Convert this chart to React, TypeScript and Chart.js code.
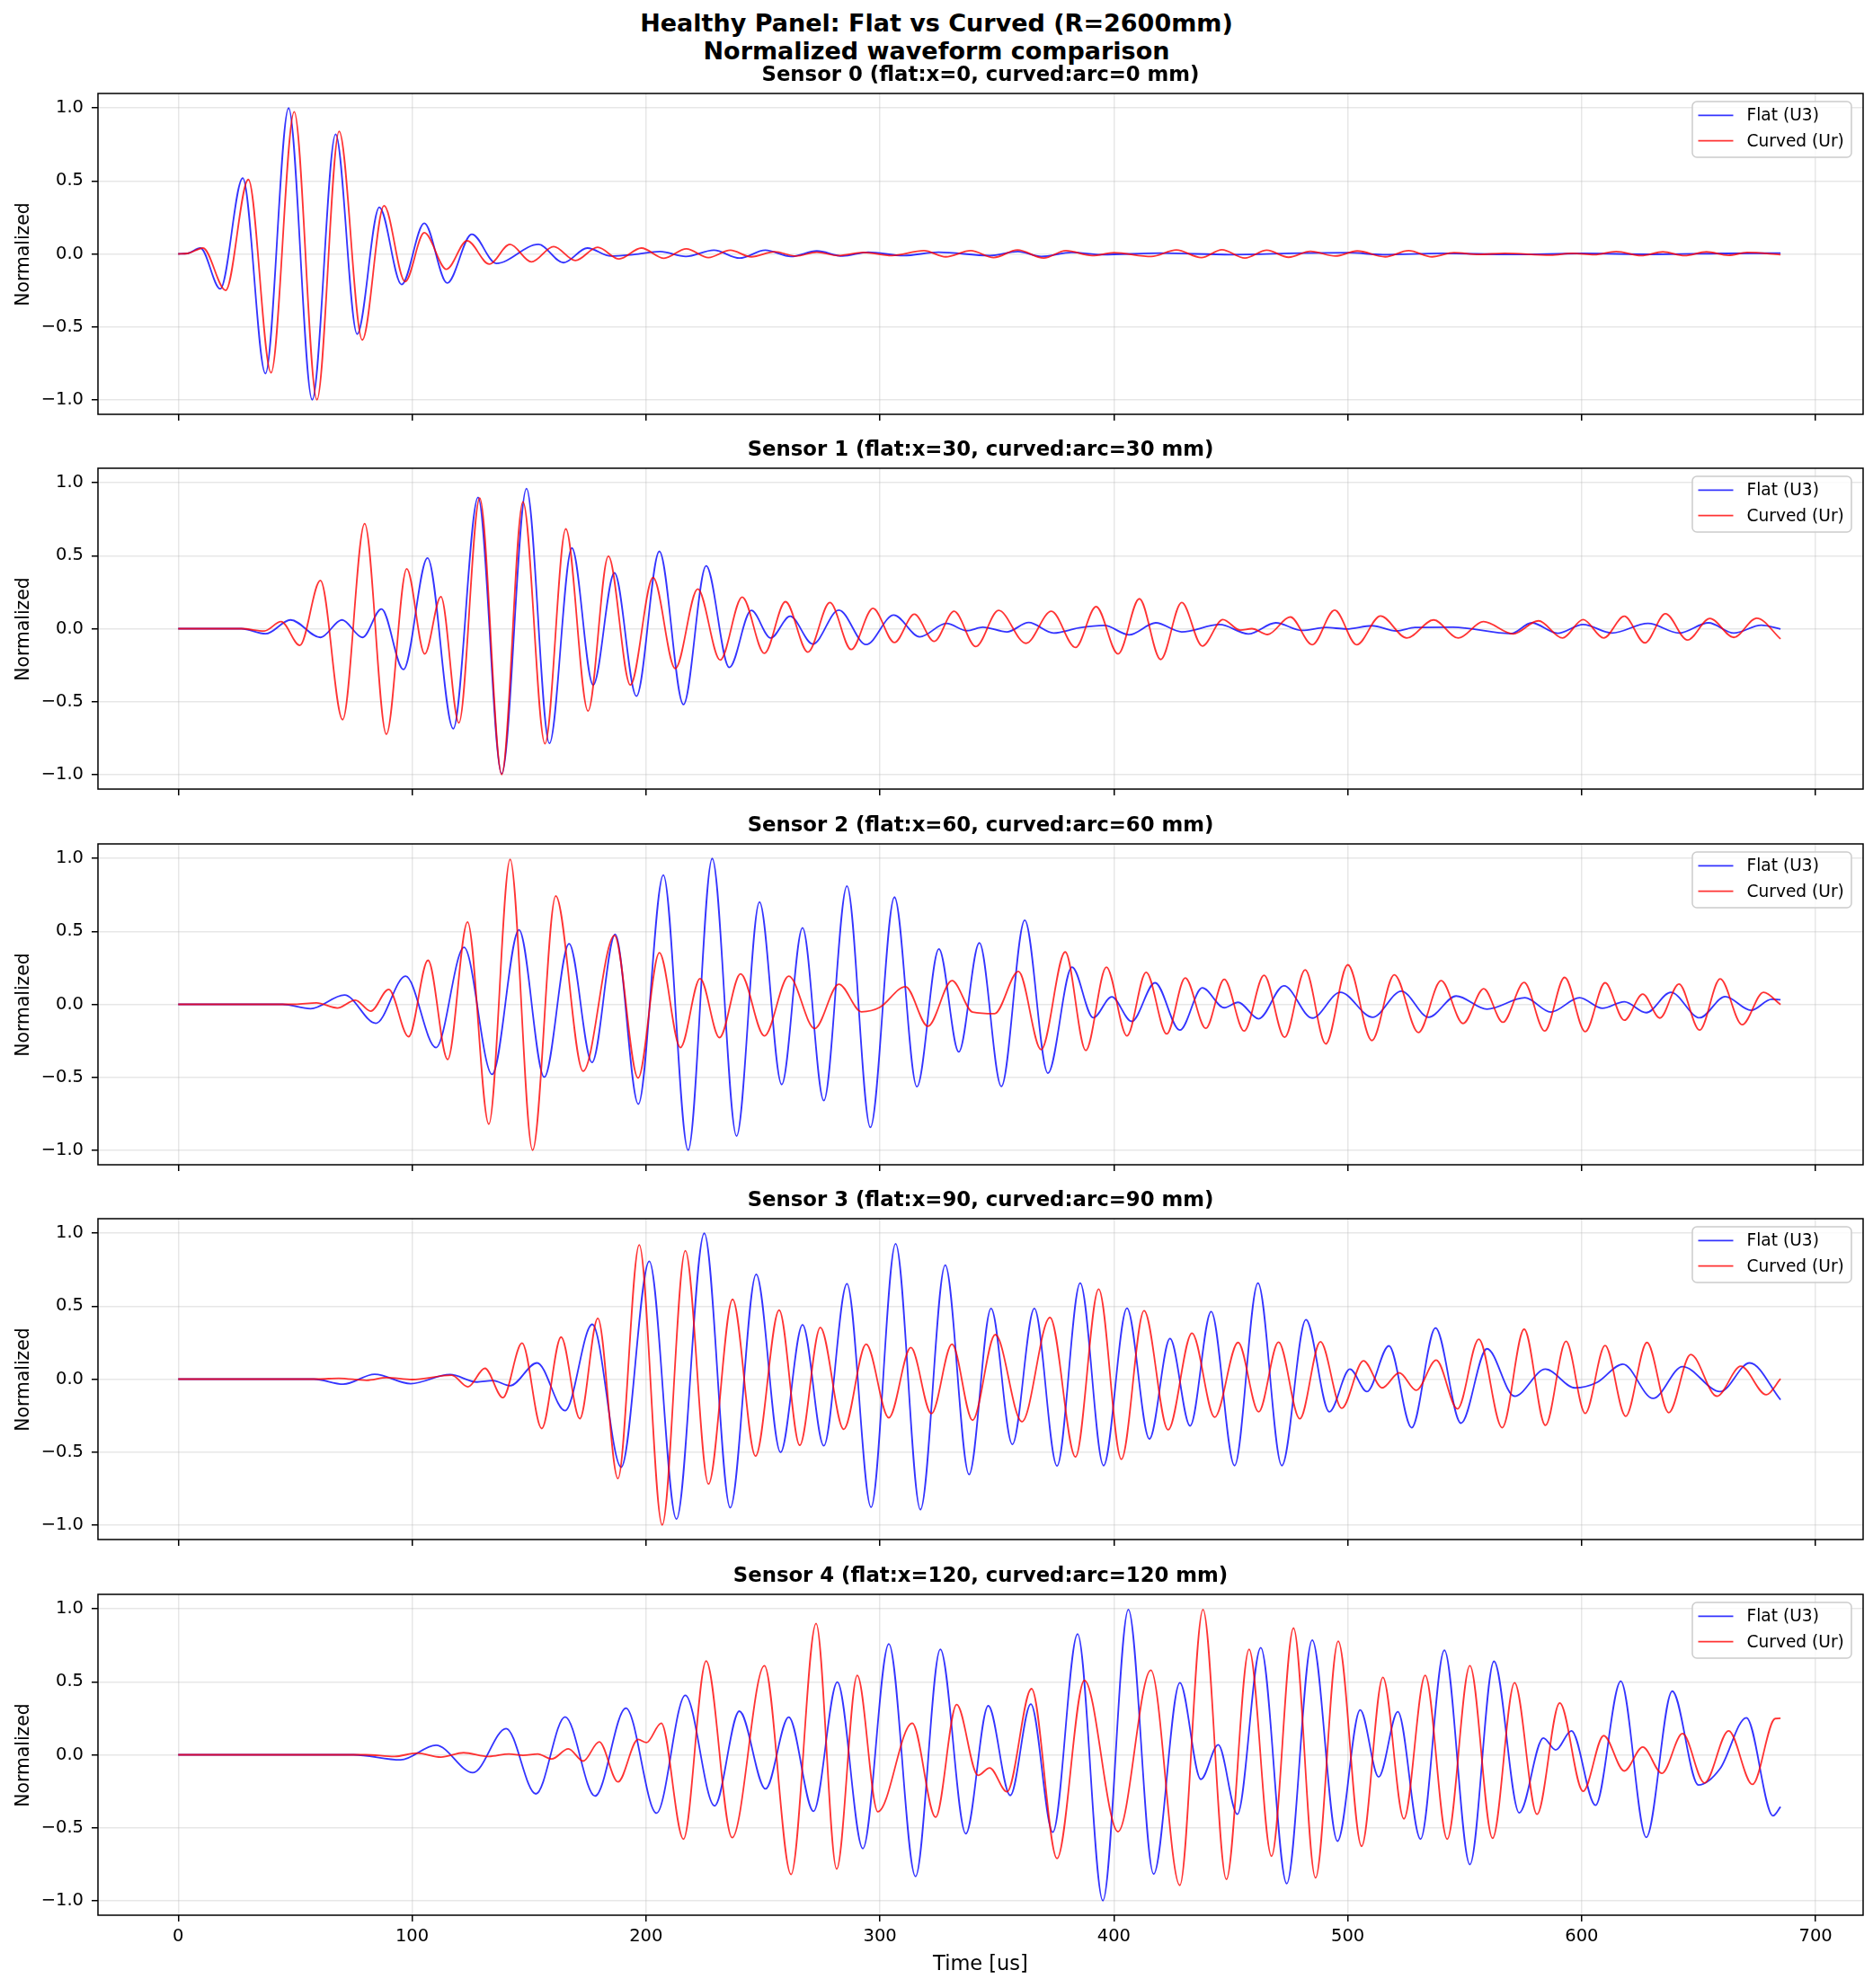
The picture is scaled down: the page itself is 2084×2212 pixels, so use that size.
import React, { useEffect, useRef } from "react";
import { Chart, registerables } from "chart.js";

Chart.register(...registerables);

// ---------------- text ----------------
const FIG_TITLE = ["Healthy Panel: Flat vs Curved (R=2600mm)", "Normalized waveform comparison"];
const SENSOR_TITLES = [
  "Sensor 0 (flat:x=0, curved:arc=0 mm)",
  "Sensor 1 (flat:x=30, curved:arc=30 mm)",
  "Sensor 2 (flat:x=60, curved:arc=60 mm)",
  "Sensor 3 (flat:x=90, curved:arc=90 mm)",
  "Sensor 4 (flat:x=120, curved:arc=120 mm)",
];
const SERIES_LABELS = ["Flat (U3)", "Curved (Ur)"];
const X_LABEL = "Time [us]";
const Y_LABEL = "Normalized";

// ---------------- axes ----------------
const X_TICKS = [0, 100, 200, 300, 400, 500, 600, 700];
const Y_TICKS = [-1, -0.5, 0, 0.5, 1];
const Y_TICK_LABELS = ["\u22121.0", "\u22120.5", "0.0", "0.5", "1.0"];
const X_MIN = -34.3;
const X_MAX = 720.3;
const Y_MIN = -1.1;
const Y_MAX = 1.1;

// ---------------- data: [time us, normalized] at waveform extrema ----------------
const S0_FLAT: [number, number][] = [
  [0, 0], [4, 0.003], [9.5, 0.04], [18, -0.24], [27.6, 0.52], [37.3, -0.82], [47.2, 1.0], [57.3, -1.0],
  [67.3, 0.82], [76.5, -0.55], [86, 0.32], [95.5, -0.21], [105.2, 0.21], [115, -0.2], [125.5, 0.135],
  [136, -0.065], [154, 0.065], [164.7, -0.06], [174.9, 0.04], [185, -0.015], [195, -0.004], [206, 0.016],
  [217, -0.018], [229, 0.025], [240, -0.029], [251, 0.025], [262, -0.018], [273, 0.02], [284, -0.015],
  [295, 0.012], [310, -0.012], [325, 0.012], [347, -0.012], [359, 0.016], [369, -0.018], [382, 0.01],
  [395, -0.005], [420, 0.005], [450, -0.005], [480, 0.005], [500, 0.008], [515, -0.005], [540, 0.004],
  [570, -0.004], [600, 0.003], [630, -0.003], [660, 0.003], [685, 0.005],
];
const S0_CURVED: [number, number][] = [
  [0, 0], [4, 0.003], [10.6, 0.04], [20.3, -0.25], [30, 0.51], [39.7, -0.815], [49.6, 0.975], [59.3, -1.0],
  [68.8, 0.84], [78.7, -0.59], [88, 0.33], [97, -0.19], [105.2, 0.145], [114.7, -0.105], [123.5, 0.09],
  [133, -0.07], [141.8, 0.065], [151, -0.055], [160.5, 0.05], [169.8, -0.045], [179.3, 0.045], [188.5, -0.035],
  [198, 0.04], [207.7, -0.03], [217.2, 0.035], [226.7, -0.025], [236, 0.025], [245, -0.02], [255, 0.015],
  [264, -0.015], [273, 0.012], [282, -0.012], [293, 0.01], [305, -0.012], [318.8, 0.022], [328.1, -0.02],
  [338.8, 0.022], [348.6, -0.025], [358.8, 0.027], [370, -0.029], [379.5, 0.022], [390.7, -0.012], [400, 0.008],
  [416, -0.018], [426.7, 0.027], [437.4, -0.025], [446.2, 0.029], [456, -0.029], [465.4, 0.025], [474.7, -0.023],
  [484, 0.018], [494.7, -0.015], [504, 0.02], [516, -0.02], [526, 0.022], [536, -0.02], [545.4, 0.008],
  [556, -0.004], [567, 0.004], [586.7, -0.008], [596, 0.004], [605.4, -0.006], [614.7, 0.016], [625.4, -0.012],
  [634.7, 0.014], [644, -0.012], [653.3, 0.014], [662.7, -0.01], [670.7, 0.01], [685, -0.005],
];

const S1_FLAT: [number, number][] = [
  [0, 0], [27, 0], [37.4, -0.035], [48, 0.06], [60.8, -0.06], [70, 0.06], [78.8, -0.06], [86.9, 0.135],
  [96.3, -0.28], [106.6, 0.485], [117.6, -0.686], [128.2, 0.9], [138.3, -0.996], [148.9, 0.96], [158.7, -0.787],
  [168.3, 0.553], [177.4, -0.386], [186.5, 0.382], [195.9, -0.463], [205.7, 0.53], [216, -0.52], [225.7, 0.43],
  [235.6, -0.266], [245, 0.125], [253.3, -0.064], [261.6, 0.085], [271.3, -0.105], [282.4, 0.127], [294.1, -0.109],
  [305.9, 0.093], [317, -0.056], [328.4, 0.036], [337.2, -0.014], [344, 0.01], [354.3, -0.022], [363.6, 0.042],
  [374.2, -0.03], [385, 0.005], [395.9, 0.022], [406.5, -0.042], [417.9, 0.04], [429, -0.022], [445.2, 0.028],
  [457.5, -0.036], [469.2, 0.04], [480.4, -0.012], [490.6, 0.008], [499.4, -0.002], [510.3, 0.02], [520.8, -0.016],
  [528.7, 0.008], [545, 0.01], [569.8, -0.034], [578.6, 0.04], [589.7, -0.032], [600.6, 0.028], [612.9, -0.03],
  [628.4, 0.036], [641.6, -0.03], [654.2, 0.04], [665, -0.03], [676.8, 0.024], [685, -0.002],
];
const S1_CURVED: [number, number][] = [
  [0, 0], [27, 0], [36.8, -0.016], [44, 0.048], [52, -0.115], [60.8, 0.33], [70.3, -0.624], [79.7, 0.72],
  [89, -0.724], [97.7, 0.41], [105.4, -0.173], [112.3, 0.22], [120, -0.646], [128.9, 0.895], [138.3, -1.0],
  [147.4, 0.87], [156.8, -0.789], [165.7, 0.684], [175.2, -0.565], [183.9, 0.497], [193.3, -0.386], [203, 0.35],
  [212.5, -0.274], [222.1, 0.272], [231.7, -0.215], [241.1, 0.217], [250.6, -0.169], [259.6, 0.185], [269.2, -0.161],
  [278.6, 0.179], [287.7, -0.143], [297, 0.139], [306.2, -0.095], [314.7, 0.099], [323.2, -0.087], [331.7, 0.119],
  [341, -0.123], [350.7, 0.125], [362.4, -0.1], [373.3, 0.119], [383.6, -0.129], [392.4, 0.151], [401.8, -0.173],
  [410.9, 0.205], [420, -0.211], [429, 0.179], [437.8, -0.119], [446.6, 0.062], [454, -0.01], [459, 0.0],
  [465.7, -0.04], [475.4, 0.08], [484.8, -0.11], [494.4, 0.127], [503.8, -0.11], [514, 0.087], [525.2, -0.064],
  [536.7, 0.06], [547.2, -0.064], [558, 0.048], [570.7, -0.036], [581.5, 0.054], [591.8, -0.064], [600.6, 0.062],
  [609.4, -0.064], [618.2, 0.085], [627, -0.097], [635.8, 0.103], [645.2, -0.078], [654.8, 0.07], [665, -0.06],
  [674.8, 0.072], [685, -0.07],
];

const S2_FLAT: [number, number][] = [
  [0, 0], [44.6, 0], [56.6, -0.03], [71.1, 0.064], [84.5, -0.13], [97.2, 0.193], [110.2, -0.296], [122.2, 0.39],
  [134.2, -0.48], [145.7, 0.511], [156.5, -0.499], [167.1, 0.415], [176.9, -0.398], [186.8, 0.48], [196.7, -0.684],
  [207.4, 0.887], [218, -1.0], [228.3, 1.0], [238.7, -0.903], [248.5, 0.702], [258, -0.55], [266.9, 0.524],
  [276, -0.66], [285.9, 0.811], [295.9, -0.844], [306.2, 0.735], [315.8, -0.565], [325.2, 0.38], [333.7, -0.326],
  [342.5, 0.421], [351.9, -0.563], [361.9, 0.577], [371.8, -0.472], [382.1, 0.255], [391.2, -0.092], [399.1, 0.051],
  [407.6, -0.117], [417.6, 0.148], [428.2, -0.177], [437.8, 0.113], [447.2, -0.023], [453.1, 0.014], [461.9, -0.099],
  [472.7, 0.127], [484.8, -0.094], [496.8, 0.082], [510.6, -0.088], [522.9, 0.09], [534.6, -0.088], [546.3, 0.057],
  [559.5, -0.033], [575.7, 0.045], [586.8, -0.053], [599.1, 0.045], [608.8, -0.027], [618.2, 0.018], [627.6, -0.057],
  [638.1, 0.082], [650.4, -0.092], [661.3, 0.053], [672.4, -0.041], [681.2, 0.035], [685, 0.031],
];
const S2_CURVED: [number, number][] = [
  [0, 0], [50, 0], [59.1, 0.01], [68, -0.025], [75.7, 0.029], [82.3, -0.047], [90, 0.103], [98.5, -0.222],
  [106.8, 0.302], [115.2, -0.378], [123.7, 0.565], [132.8, -0.821], [141.9, 0.994], [151.5, -1.0], [161.4, 0.743],
  [173.1, -0.458], [186.5, 0.472], [196.6, -0.505], [205.7, 0.353], [214.7, -0.296], [223.1, 0.177], [231.4, -0.228],
  [240.4, 0.209], [250.6, -0.216], [261, 0.193], [272.1, -0.166], [282.4, 0.138], [292.1, -0.051], [300, -0.02],
  [310.9, 0.121], [320.5, -0.15], [330.8, 0.162], [339.6, -0.053], [349, -0.064], [359.2, 0.226], [368.9, -0.31],
  [379.2, 0.359], [388, -0.316], [396.8, 0.255], [405.6, -0.216], [413.8, 0.22], [422.6, -0.203], [430.5, 0.181],
  [439.3, -0.164], [447.2, 0.172], [455.7, -0.183], [464.2, 0.199], [473, -0.226], [481.8, 0.236], [490.6, -0.271],
  [500, 0.271], [510.3, -0.248], [519.9, 0.203], [530.2, -0.193], [539.9, 0.162], [549.3, -0.131], [558.1, 0.107],
  [566.3, -0.123], [575.4, 0.15], [584.2, -0.183], [592.7, 0.185], [601.5, -0.187], [610, 0.148], [618.2, -0.109],
  [626.1, 0.07], [633.4, -0.094], [641.6, 0.14], [650.4, -0.177], [659.2, 0.175], [668.6, -0.14], [677.7, 0.082],
  [685, -0.002],
];

const S3_FLAT: [number, number][] = [
  [0, 0], [58, 0], [70.6, -0.035], [84, 0.033], [99.4, -0.031], [116.2, 0.031], [127.7, -0.02], [134.5, -0.01],
  [141.9, -0.045], [153.4, 0.111], [165.4, -0.216], [177, 0.376], [189.4, -0.604], [201.4, 0.808], [213, -0.96],
  [224.9, 1.0], [236, -0.882], [247.1, 0.719], [257.5, -0.502], [266.9, 0.372], [276, -0.457], [285.9, 0.654],
  [296.2, -0.879], [306.7, 0.928], [317.3, -0.895], [327.9, 0.782], [338.1, -0.654], [347.5, 0.484], [356.6, -0.447],
  [366, 0.484], [375.7, -0.595], [385.6, 0.658], [395.6, -0.593], [405.6, 0.486], [415.2, -0.41], [424, 0.278],
  [432.6, -0.321], [441.6, 0.463], [451.6, -0.593], [461.6, 0.658], [471.8, -0.593], [482.1, 0.407], [492.1, -0.224],
  [500.9, 0.068], [508.2, -0.086], [517.6, 0.228], [527.3, -0.333], [537.5, 0.35], [548.4, -0.302], [559.5, 0.208],
  [571.3, -0.117], [584.5, 0.068], [597.1, -0.06], [606.5, -0.023], [617.6, 0.103], [630.5, -0.132], [643.1, 0.086],
  [659.2, -0.086], [671.8, 0.111], [685, -0.142],
];
const S3_CURVED: [number, number][] = [
  [0, 0], [60, 0], [68.6, 0.006], [80.5, -0.008], [89, 0.01], [100, -0.003], [116.9, 0.027], [123.9, -0.053],
  [131.1, 0.074], [138.8, -0.127], [147, 0.247], [155.4, -0.339], [163.7, 0.288], [171.7, -0.271], [179.4, 0.417],
  [188, -0.682], [197.1, 0.921], [206.9, -1.0], [216.8, 0.88], [226.7, -0.719], [237, 0.547], [246.8, -0.528],
  [256.9, 0.473], [265.7, -0.453], [274.5, 0.354], [284.5, -0.344], [294.1, 0.239], [303.8, -0.265], [313.2, 0.216],
  [322, -0.237], [330.8, 0.239], [339.6, -0.282], [349.3, 0.305], [360.7, -0.292], [372.7, 0.422], [383.6, -0.533],
  [393.5, 0.617], [403.2, -0.549], [412.9, 0.469], [423.2, -0.348], [433.4, 0.315], [443.1, -0.261], [453.1, 0.251],
  [461.9, -0.224], [470.4, 0.253], [479.5, -0.272], [488.3, 0.257], [497.4, -0.2], [506.7, 0.126], [514.7, -0.06],
  [522, 0.043], [529.3, -0.076], [537.8, 0.13], [546.9, -0.204], [556, 0.274], [566, -0.333], [575.4, 0.342],
  [584.5, -0.317], [593.3, 0.259], [601.5, -0.235], [610, 0.23], [618.8, -0.255], [627.9, 0.251], [637.2, -0.23],
  [646.6, 0.169], [657.8, -0.117], [668, 0.088], [678.9, -0.107], [685, 0.002],
];

const S4_FLAT: [number, number][] = [
  [0, 0], [75, 0], [95.1, -0.035], [110.2, 0.066], [126, -0.123], [140.2, 0.18], [152.9, -0.268], [165.4, 0.26],
  [178.2, -0.283], [191.4, 0.32], [204.5, -0.4], [216.8, 0.408], [229.3, -0.35], [239.9, 0.299], [251.1, -0.234],
  [261, 0.258], [271.6, -0.387], [281.8, 0.498], [292.7, -0.643], [303.8, 0.76], [315.2, -0.834], [325.8, 0.723],
  [336.7, -0.541], [346.3, 0.336], [355.7, -0.279], [364.5, 0.348], [373.9, -0.531], [384.5, 0.828], [395.3, -1.0],
  [406.2, 0.996], [417, -0.818], [428.2, 0.494], [437.2, -0.168], [444.6, 0.068], [452.8, -0.408], [462.8, 0.734],
  [473.9, -0.883], [484.8, 0.787], [495.6, -0.592], [505.3, 0.307], [513.2, -0.152], [521.4, 0.295], [531.1, -0.578],
  [541.3, 0.717], [552.2, -0.752], [562.5, 0.641], [573.3, -0.398], [583.6, 0.115], [588.9, 0.033], [595.6, 0.164],
  [605.9, -0.346], [616.7, 0.504], [627.6, -0.566], [638.7, 0.436], [649.9, -0.207], [659.2, -0.094], [670.4, 0.254],
  [681.8, -0.418], [685, -0.357],
];
const S4_CURVED: [number, number][] = [
  [0, 0], [80, 0], [92.5, -0.012], [102, 0.012], [112.3, -0.016], [122, 0.014], [132.8, -0.012], [141.4, 0.006],
  [147.4, -0.004], [153.7, 0.006], [159.7, -0.029], [166.8, 0.041], [173.1, -0.043], [180, 0.088], [188, -0.186],
  [196.6, 0.105], [200.2, 0.084], [206.5, 0.217], [216, -0.578], [225.7, 0.643], [236.8, -0.568], [250.6, 0.611],
  [262, -0.82], [272.7, 0.9], [281.5, -0.783], [290.3, 0.545], [299.1, -0.391], [313.8, 0.217], [323.8, -0.428],
  [332.8, 0.344], [341.9, -0.141], [346.9, -0.09], [354.3, -0.254], [364.8, 0.453], [375.7, -0.711], [387.4, 0.51],
  [401.8, -0.527], [415.8, 0.58], [428.2, -0.895], [438.1, 0.996], [448.1, -0.854], [457.8, 0.723], [467.4, -0.695],
  [476.8, 0.869], [486.2, -0.844], [495.9, 0.779], [505.9, -0.627], [515, 0.531], [524, -0.439], [533.1, 0.545],
  [542.5, -0.578], [552.2, 0.611], [561.9, -0.572], [571.3, 0.494], [580.9, -0.408], [590.6, 0.355], [600.6, -0.25],
  [609.4, 0.131], [618.2, -0.111], [626.1, 0.053], [634.3, -0.127], [643.1, 0.145], [652.5, -0.193], [662.8, 0.164],
  [673, -0.203], [682.7, 0.248], [685, 0.25],
];

const FLAT_SERIES = [S0_FLAT, S1_FLAT, S2_FLAT, S3_FLAT, S4_FLAT];
const CURVED_SERIES = [S0_CURVED, S1_CURVED, S2_CURVED, S3_CURVED, S4_CURVED];

// ---------------- layout / style ----------------
const FIG_W = 2084;
const FIG_H = 2212;
const AX_LEFT = 109;
const AX_RIGHT = 2073;
const AX_H = 357;
const AX_TOPS = [104, 521, 939, 1356, 1774];
const PAD_TOP = 30;
const PAD_BOTTOM = 30;
const PAD_BOTTOM_LAST = 70;
const FONT = "'DejaVu Sans', 'Liberation Sans', sans-serif";
const FLAT_COLOR = "rgba(0,0,255,0.8)";
const CURVED_COLOR = "rgba(255,0,0,0.8)";
const GRID_COLOR = "rgba(176,176,176,0.3)";
const LINE_W = 1.8;

const framePlugin = {
  id: "frameAndLegend",
  afterDraw(chart: any) {
    const { ctx, chartArea: a } = chart;
    ctx.save();
    ctx.strokeStyle = "#000";
    ctx.lineWidth = 1.5;
    ctx.strokeRect(a.left, a.top, a.right - a.left, a.bottom - a.top);

    const bx = a.right - 190;
    const by = a.top + 9;
    const bw = 177;
    const bh = 62;
    const r = 5;
    ctx.beginPath();
    ctx.moveTo(bx + r, by);
    ctx.lineTo(bx + bw - r, by);
    ctx.arcTo(bx + bw, by, bx + bw, by + r, r);
    ctx.lineTo(bx + bw, by + bh - r);
    ctx.arcTo(bx + bw, by + bh, bx + bw - r, by + bh, r);
    ctx.lineTo(bx + r, by + bh);
    ctx.arcTo(bx, by + bh, bx, by + bh - r, r);
    ctx.lineTo(bx, by + r);
    ctx.arcTo(bx, by, bx + r, by, r);
    ctx.closePath();
    ctx.fillStyle = "rgba(255,255,255,0.8)";
    ctx.fill();
    ctx.strokeStyle = "#cccccc";
    ctx.lineWidth = 1.5;
    ctx.stroke();

    const rows = [15.3, 43.7];
    const colors = [FLAT_COLOR, CURVED_COLOR];
    ctx.font = `18.6px ${FONT}`;
    ctx.textBaseline = "middle";
    ctx.textAlign = "left";
    SERIES_LABELS.forEach((label, i) => {
      const y = by + rows[i];
      ctx.beginPath();
      ctx.moveTo(bx + 6.5, y);
      ctx.lineTo(bx + 45.5, y);
      ctx.strokeStyle = colors[i];
      ctx.lineWidth = LINE_W;
      ctx.stroke();
      ctx.fillStyle = "#000";
      ctx.fillText(label, bx + 60.5, y + 1);
    });
    ctx.restore();
  },
};

function Panel({ index }: { index: number }) {
  const ref = useRef<HTMLCanvasElement | null>(null);
  const isLast = index === AX_TOPS.length - 1;
  const padBottom = isLast ? PAD_BOTTOM_LAST : PAD_BOTTOM;
  const height = PAD_TOP + AX_H + padBottom;

  useEffect(() => {
    if (!ref.current) return;
    const toXY = (arr: [number, number][]) => arr.map(([x, y]) => ({ x, y }));
    const chart = new Chart(ref.current, {
      type: "line",
      data: {
        datasets: [
          {
            label: SERIES_LABELS[0],
            data: toXY(FLAT_SERIES[index]),
            borderColor: FLAT_COLOR,
            borderWidth: LINE_W,
            pointRadius: 0,
            cubicInterpolationMode: "monotone",
            fill: false,
            order: 1,
          },
          {
            label: SERIES_LABELS[1],
            data: toXY(CURVED_SERIES[index]),
            borderColor: CURVED_COLOR,
            borderWidth: LINE_W,
            pointRadius: 0,
            cubicInterpolationMode: "monotone",
            fill: false,
            order: 0,
          },
        ],
      },
      options: {
        animation: false,
        responsive: false,
        maintainAspectRatio: false,
        devicePixelRatio: 1,
        events: [],
        layout: { padding: { top: PAD_TOP, left: 0, right: FIG_W - AX_RIGHT, bottom: 0 } },
        plugins: {
          legend: { display: false },
          title: { display: false },
          tooltip: { enabled: false },
        },
        scales: {
          x: {
            type: "linear",
            min: X_MIN,
            max: X_MAX,
            afterBuildTicks: (s: any) => {
              s.ticks = X_TICKS.map((v) => ({ value: v }));
            },
            afterFit: (s: any) => {
              s.height = padBottom;
              s.paddingLeft = 0;
              s.paddingRight = 0;
            },
            ticks: {
              display: isLast,
              autoSkip: false,
              maxRotation: 0,
              padding: 5,
              color: "#000",
              font: { family: FONT, size: 19.5 },
              callback: (v: any) => String(v),
            },
            grid: {
              color: GRID_COLOR,
              lineWidth: 1.5,
              drawTicks: true,
              tickLength: 7,
              tickColor: "#000",
              tickWidth: 1.5,
            },
            border: { display: false },
          },
          y: {
            type: "linear",
            min: Y_MIN,
            max: Y_MAX,
            afterBuildTicks: (s: any) => {
              s.ticks = Y_TICKS.map((v) => ({ value: v }));
            },
            afterFit: (s: any) => {
              s.width = AX_LEFT;
              s.paddingTop = 0;
              s.paddingBottom = 0;
            },
            ticks: {
              autoSkip: false,
              padding: 9,
              color: "#000",
              font: { family: FONT, size: 19.5 },
              callback: (v: any) => {
                const k = Y_TICKS.findIndex((t) => Math.abs(t - Number(v)) < 1e-9);
                return k >= 0 ? Y_TICK_LABELS[k] : "";
              },
            },
            grid: {
              color: GRID_COLOR,
              lineWidth: 1.5,
              drawTicks: true,
              tickLength: 7,
              tickColor: "#000",
              tickWidth: 1.5,
            },
            border: { display: false },
          },
        },
      } as any,
      plugins: [framePlugin],
    });
    return () => chart.destroy();
  }, [index]);

  const top = AX_TOPS[index] - PAD_TOP;
  return (
    <canvas
      ref={ref}
      width={FIG_W}
      height={height}
      style={{ position: "absolute", left: 0, top, width: FIG_W, height, display: "block" }}
    />
  );
}

export default function App() {
  return (
    <div
      style={{
        position: "absolute",
        left: 0,
        top: 0,
        width: FIG_W,
        height: FIG_H,
        background: "#fff",
        overflow: "hidden",
        fontFamily: FONT,
        color: "#000",
      }}
    >
      {AX_TOPS.map((_, i) => (
        <Panel key={i} index={i} />
      ))}
      <div
        style={{
          position: "absolute",
          left: 0,
          top: 9.5,
          width: FIG_W,
          textAlign: "center",
          fontWeight: "bold",
          fontSize: 27,
          lineHeight: "31px",
          whiteSpace: "nowrap",
        }}
      >
        {FIG_TITLE[0]}
        <br />
        {FIG_TITLE[1]}
      </div>
      {SENSOR_TITLES.map((t, i) => (
        <div
          key={"t" + i}
          style={{
            position: "absolute",
            left: AX_LEFT,
            width: AX_RIGHT - AX_LEFT,
            top: AX_TOPS[i] - 21.3 - 13.5,
            textAlign: "center",
            fontWeight: "bold",
            fontSize: 22.8,
            lineHeight: "27px",
            whiteSpace: "nowrap",
          }}
        >
          {t}
        </div>
      ))}
      {AX_TOPS.map((top, i) => (
        <div
          key={"y" + i}
          style={{
            position: "absolute",
            left: 24.7,
            top: top + AX_H / 2,
            transform: "translate(-50%, -50%) rotate(-90deg)",
            fontSize: 20.4,
            lineHeight: "24px",
            whiteSpace: "nowrap",
          }}
        >
          {Y_LABEL}
        </div>
      ))}
      <div
        style={{
          position: "absolute",
          left: AX_LEFT,
          width: AX_RIGHT - AX_LEFT,
          top: 2184 - 13,
          textAlign: "center",
          fontSize: 22.5,
          lineHeight: "26px",
          whiteSpace: "nowrap",
        }}
      >
        {X_LABEL}
      </div>
    </div>
  );
}
